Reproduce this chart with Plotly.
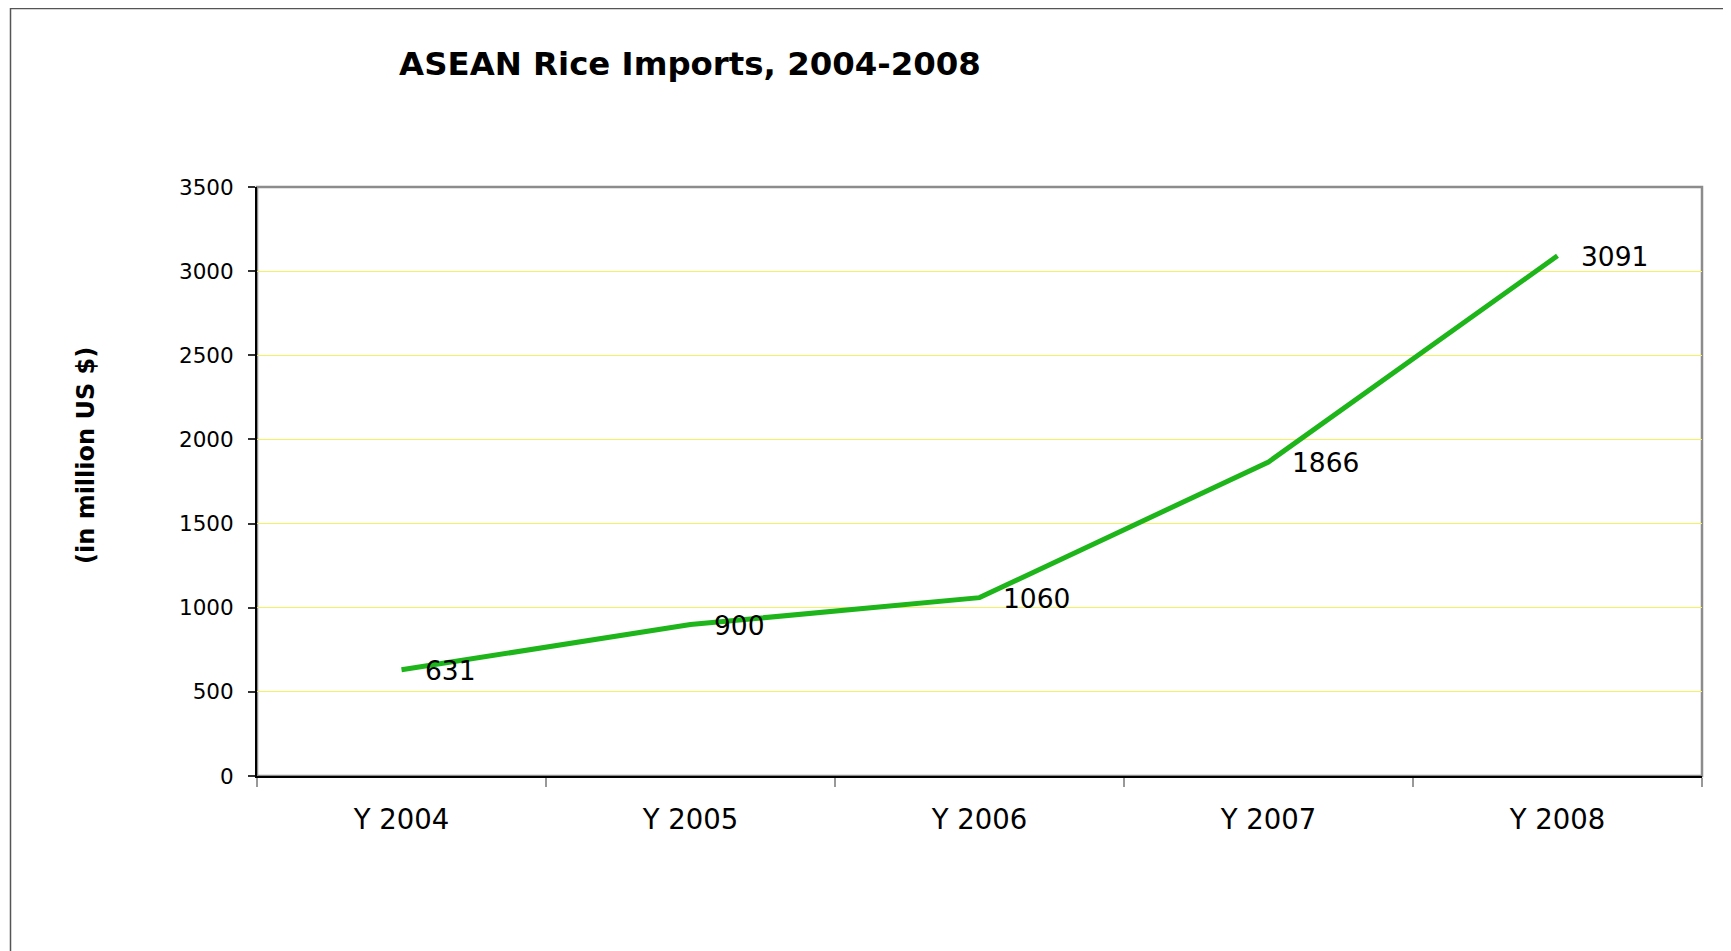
import plotly.graph_objects as go

categories = ["Y 2004", "Y 2005", "Y 2006", "Y 2007", "Y 2008"]
imports = [631, 900, 1060, 1866, 3091]
y_ticks = [0, 500, 1000, 1500, 2000, 2500, 3000, 3500]

# page offset of the plotly div inside the browser page (body margin)
OFF = 8
W, H = 1731, 951
# target plot area in page pixels: x 257..1702, y 187..776
L, T = 257 - OFF, 187 - OFF
R = W - (1702 - OFF)
B = H - (776 - OFF)
pw, ph = W - L - R, H - T - B

def px_to_paper_x(px):  # page pixel -> paper
    return (px - OFF - L) / pw

def px_to_paper_y(py):
    return (H - B - (py - OFF)) / ph

FONT = "DejaVu Sans"
GREEN = "#1DB51A"

fig = go.Figure()
fig.add_trace(go.Scatter(
    x=categories, y=imports, mode="lines",
    line=dict(color=GREEN, width=5),
    hoverinfo="x+y", showlegend=False,
))

for c, v in zip(categories, imports):
    fig.add_annotation(
        x=c, y=v, xref="x", yref="y", text=str(v), showarrow=False,
        xanchor="left", yanchor="middle", xshift=21, yshift=-1,
        font=dict(family=FONT, size=26.5, color="#000000"),
    )

# y-axis title
fig.add_annotation(
    x=px_to_paper_x(86), y=px_to_paper_y(456), xref="paper", yref="paper",
    text="<b>(in million US $)</b>", textangle=-90, showarrow=False,
    xanchor="center", yanchor="middle",
    font=dict(family=FONT, size=24, color="#000000"),
)

# plot area frame (grey) and outer chart border
fig.add_shape(type="rect", xref="paper", yref="paper", x0=0, x1=1, y0=0, y1=1,
              line=dict(color="#8C8C8C", width=2.5), layer="below")
fig.add_shape(type="rect", xref="paper", yref="paper",
              x0=px_to_paper_x(10.5), x1=px_to_paper_x(1780),
              y0=px_to_paper_y(1000), y1=px_to_paper_y(8.5),
              line=dict(color="#555555", width=1.5), layer="below")

fig.update_layout(
    width=W, height=H,
    margin=dict(l=L, r=R, t=T, b=B, autoexpand=False),
    paper_bgcolor="white", plot_bgcolor="white",
    font=dict(family=FONT, color="#000000"),
    title=dict(
        text="<b>ASEAN Rice Imports, 2004-2008</b>",
        x=(690 - OFF) / W, xref="container", xanchor="center",
        y=1 - (64 - OFF) / H, yref="container", yanchor="middle",
        font=dict(family=FONT, size=32.4, color="#000000"),
    ),
    xaxis=dict(
        type="category", range=[-0.5, 4.5],
        showline=True, linecolor="#000000", linewidth=2,
        ticks="outside", tickson="boundaries", ticklen=9, tickcolor="#999999", tickwidth=1.5,
        showgrid=False, zeroline=False,
        tickfont=dict(family=FONT, size=27.5, color="#000000"),
        ticklabelstandoff=18,
        fixedrange=True,
    ),
    yaxis=dict(
        range=[0, 3500], tickvals=y_ticks,
        showline=True, linecolor="#000000", linewidth=2,
        ticks="outside", ticklen=7, tickcolor="#333333", tickwidth=1.5,
        showgrid=True, gridcolor="#F5F064", gridwidth=1,
        zeroline=False,
        tickfont=dict(family=FONT, size=21.5, color="#000000"),
        ticklabelstandoff=10,
        fixedrange=True,
    ),
)

fig.write_html("out.html")
